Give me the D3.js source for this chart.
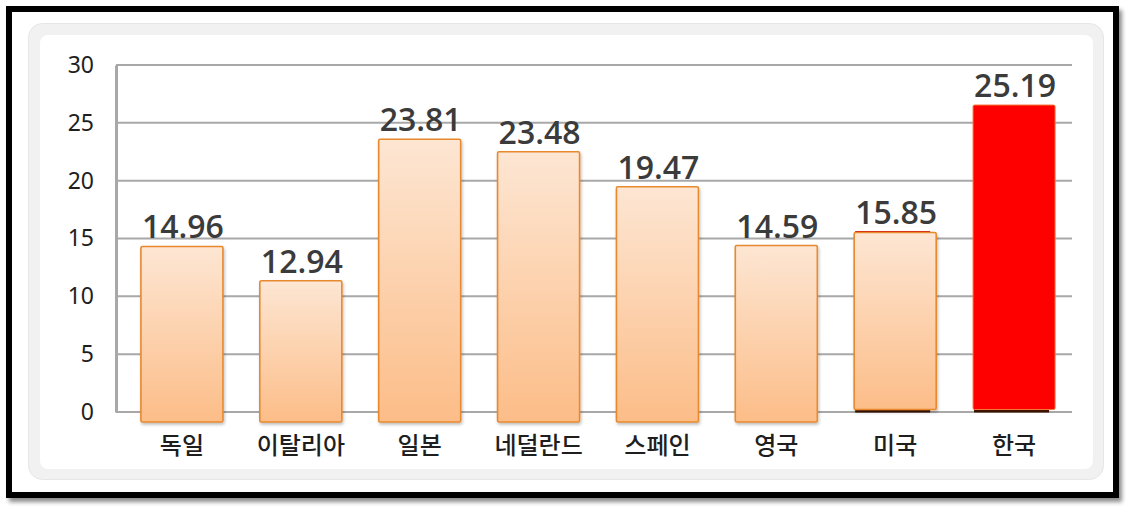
<!DOCTYPE html>
<html>
<head>
<meta charset="utf-8">
<script src="https://cdn.jsdelivr.net/npm/d3@7"></script>
<style>
  html, body { margin: 0; padding: 0; background: #fff; }
  svg { display: block; }
</style>
</head>
<body>
<svg id="chart" width="1134" height="512"></svg>
<script>
// values
var countries = ["독일", "이탈리아", "일본", "네덜란드", "스페인", "영국", "미국", "한국"];
var labelValues = [14.96, 12.94, 23.81, 23.48, 19.47, 14.59, 15.85, 25.19];   // printed numbers
var barHeights = [14.31, 11.35, 23.58, 22.50, 19.48, 14.39, 15.52, 26.54];    // where the bar tops actually sit
var yTicks = [0, 5, 10, 15, 20, 25, 30];

var highlight = "한국";
// the pasted orange bars hang below the baseline, the last two sit on it
var sunk = ["독일", "이탈리아", "일본", "네덜란드", "스페인", "영국"];

var rows = countries.map(function(c, i) {
  return { name: c, label: labelValues[i], h: barHeights[i] };
});

var svg = d3.select("#chart");
var defs = svg.append("defs");

var grad = defs.append("linearGradient")
  .attr("id", "peach").attr("x1", 0).attr("y1", 0).attr("x2", 0).attr("y2", 1);
grad.append("stop").attr("offset", "0%").attr("stop-color", "#fde6d3");
grad.append("stop").attr("offset", "100%").attr("stop-color", "#fcbd88");

var dark = defs.append("linearGradient")
  .attr("id", "darkred").attr("x1", 0).attr("y1", 0).attr("x2", 0).attr("y2", 1);
dark.append("stop").attr("offset", "0%").attr("stop-color", "#d41a0a");
dark.append("stop").attr("offset", "100%").attr("stop-color", "#3e1200");

var shadow = defs.append("filter").attr("id", "barShadow")
  .attr("x", "-10%").attr("y", "-10%").attr("width", "130%").attr("height", "130%");
shadow.append("feDropShadow").attr("dx", 1).attr("dy", 2).attr("stdDeviation", 1.5)
  .attr("flood-color", "#000").attr("flood-opacity", 0.25);

var frameShadow = defs.append("filter").attr("id", "frameShadow")
  .attr("x", "-5%").attr("y", "-5%").attr("width", "110%").attr("height", "115%");
frameShadow.append("feDropShadow").attr("dx", 3).attr("dy", 4).attr("stdDeviation", 2)
  .attr("flood-color", "#000").attr("flood-opacity", 0.45);

// outer black frame
svg.append("rect")
  .attr("x", 9).attr("y", 9).attr("width", 1107).attr("height", 486)
  .attr("fill", "#fff").attr("stroke", "#000").attr("stroke-width", 6)
  .attr("filter", "url(#frameShadow)");

// rounded grey panel
svg.append("rect")
  .attr("x", 28.5).attr("y", 23.5).attr("width", 1075).attr("height", 456)
  .attr("rx", 14).attr("fill", "#f1f1f1").attr("stroke", "#e6e6e6").attr("stroke-width", 1);
svg.append("rect")
  .attr("x", 40).attr("y", 35).attr("width", 1053).attr("height", 434)
  .attr("rx", 8).attr("fill", "#fff");

var x = d3.scaleBand()
  .domain(countries)
  .range([122.5, 1073.5])
  .paddingInner(0.31)
  .paddingOuter(0.155);

var y = d3.scaleLinear()
  .domain([0, 30])
  .range([412, 65]);

var gridLeft = 116, gridRight = 1072;

// gridlines
svg.append("g").selectAll("line")
  .data(yTicks).enter()
  .append("line")
  .attr("x1", gridLeft).attr("x2", gridRight)
  .attr("y1", function(d) { return y(d); })
  .attr("y2", function(d) { return y(d); })
  .attr("stroke", "#a8a8a8")
  .attr("stroke-width", 2);

// y axis
var yAxis = svg.append("g")
  .attr("transform", "translate(" + gridLeft + ",0)")
  .call(d3.axisLeft(y).tickValues(yTicks).tickSize(0).tickPadding(22));
yAxis.select(".domain").attr("stroke", "#a8a8a8").attr("stroke-width", 3);
yAxis.selectAll("text")
  .attr("font-family", "'Noto Sans', 'DejaVu Sans', sans-serif")
  .attr("font-size", 23)
  .attr("fill", "#1e1e1e");

// dark under-bars showing through on the last two
var under = rows.filter(function(d) { return sunk.indexOf(d.name) < 0; });
svg.append("g").selectAll("rect")
  .data(under).enter()
  .append("rect")
  .attr("x", function(d) { return x(d.name) + 1; })
  .attr("width", x.bandwidth() - 7)
  .attr("y", function(d) { return d.name === highlight ? y(0) - 10 : y(d.h) - 1.5; })
  .attr("height", function(d) { return d.name === highlight ? 10.5 : y(0) - y(d.h) + 2; })
  .attr("fill", function(d) { return d.name === highlight ? "#3e1200" : "url(#darkred)"; });

// bars
svg.append("g").selectAll("rect")
  .data(rows).enter()
  .append("rect")
  .attr("x", function(d) { return x(d.name); })
  .attr("width", x.bandwidth())
  .attr("y", function(d) { return y(d.h); })
  .attr("height", function(d) {
    var bottom = sunk.indexOf(d.name) >= 0 ? y(0) + 10 : y(0) - 2.5;
    return bottom - y(d.h);
  })
  .attr("rx", 1.5)
  .attr("fill", function(d) { return d.name === highlight ? "#ff0000" : "url(#peach)"; })
  .attr("stroke", function(d) { return d.name === highlight ? "#f5793a" : "#e8892f"; })
  .attr("stroke-width", function(d) { return d.name === highlight ? 1 : 1.6; })
  .attr("filter", function(d) { return d.name === highlight ? null : "url(#barShadow)"; });

// value labels
var fmt = d3.format(".2f");
svg.append("g").selectAll("text")
  .data(rows).enter()
  .append("text")
  .attr("x", function(d) { return x(d.name) + x.bandwidth() / 2 + 1; })
  .attr("y", function(d) { return y(d.h) - 8; })
  .attr("text-anchor", "middle")
  .attr("font-family", "'Open Sans', 'Noto Sans', sans-serif")
  .attr("font-weight", 600)
  .attr("font-size", 32)
  .attr("fill", "#3b3b3b")
  .text(function(d) { return fmt(d.label); });

// category labels
svg.append("g").selectAll("text")
  .data(rows).enter()
  .append("text")
  .attr("x", function(d) { return x(d.name) + x.bandwidth() / 2; })
  .attr("y", 454)
  .attr("text-anchor", "middle")
  .attr("font-family", "'Noto Sans CJK KR', sans-serif")
  .attr("font-weight", 500)
  .attr("font-size", 24)
  .attr("fill", "#1e1e1e")
  .text(function(d) { return d.name; });
</script>
</body>
</html>
